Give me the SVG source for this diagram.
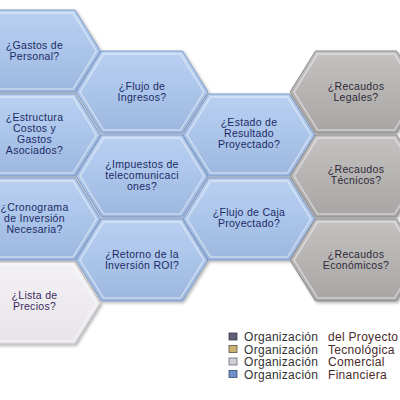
<svg xmlns="http://www.w3.org/2000/svg" xmlns:xlink="http://www.w3.org/1999/xlink" width="400" height="400" viewBox="0 0 400 400">
<defs>
  <linearGradient id="gBlue" x1="0" y1="0" x2="0" y2="1">
    <stop offset="0" stop-color="#b9d0f0"/>
    <stop offset="0.5" stop-color="#abc5ea"/>
    <stop offset="1" stop-color="#9cb6de"/>
  </linearGradient>
  <linearGradient id="gGray" x1="0" y1="0" x2="0" y2="1">
    <stop offset="0" stop-color="#c4c1c1"/>
    <stop offset="0.5" stop-color="#b6b3b3"/>
    <stop offset="1" stop-color="#a8a5a5"/>
  </linearGradient>
  <linearGradient id="gLight" x1="0" y1="0" x2="0" y2="1">
    <stop offset="0" stop-color="#f3f1f4"/>
    <stop offset="1" stop-color="#e8e5ea"/>
  </linearGradient>
  <filter id="sh" x="-20%" y="-20%" width="140%" height="140%">
    <feDropShadow dx="1.5" dy="1.5" stdDeviation="1.5" flood-color="#000" flood-opacity="0.3"/>
  </filter>
  <polygon id="hex" points="-66,0 -40.5,-41 40.5,-41 66,0 40.5,41 -40.5,41"/>
  <polygon id="hexIn" points="-62,0 -38.5,-38 38.5,-38 62,0 38.5,38 -38.5,38"/>
</defs>
<style>
  .blue{fill:url(#gBlue);stroke:#7f9bc6;stroke-width:1}
  .gray{fill:url(#gGray);stroke:#8e8b8b;stroke-width:1}
  .light{fill:url(#gLight);stroke:#bdb9c0;stroke-width:1}
  .hl{fill:none;stroke:#ffffff;stroke-opacity:0.45;stroke-width:1.5}
  .sh{filter:url(#sh)}
  text{font-family:"Liberation Sans",Arial,sans-serif;font-size:10.5px;text-anchor:middle;letter-spacing:0.3px}
  .tb{fill:#1c2a66}
  .tg{fill:#2e2a36}
  .tl{fill:#3c2860}
  .lg{font-size:12px;text-anchor:start;fill:#333;letter-spacing:0.3px}
  .lg2{font-size:12px;text-anchor:start;fill:#4a2a2a;letter-spacing:0.3px}
</style>

<g id="n-gastos-personal" transform="translate(34.5,51)">
  <use xlink:href="#hex" class="blue sh"/><use xlink:href="#hexIn" class="hl"/>
  <text class="tb" y="-2">¿Gastos de</text><text class="tb" y="9">Personal?</text>
</g>
<g id="n-estructura" transform="translate(34.5,135)">
  <use xlink:href="#hex" class="blue sh"/><use xlink:href="#hexIn" class="hl"/>
  <text class="tb" y="-14">¿Estructura</text><text class="tb" y="-3">Costos y</text><text class="tb" y="8">Gastos</text><text class="tb" y="19">Asociados?</text>
</g>
<g id="n-cronograma" transform="translate(34.5,219)">
  <use xlink:href="#hex" class="blue sh"/><use xlink:href="#hexIn" class="hl"/>
  <text class="tb" y="-8">¿Cronograma</text><text class="tb" y="3">de Inversión</text><text class="tb" y="14">Necesaria?</text>
</g>
<g id="n-lista" transform="translate(34.5,303)">
  <use xlink:href="#hex" class="light sh"/><use xlink:href="#hexIn" class="hl"/>
  <text class="tl" y="-4">¿Lista de</text><text class="tl" y="7">Precios?</text>
</g>

<g id="n-flujo-ingresos" transform="translate(142,92)">
  <use xlink:href="#hex" class="blue sh"/><use xlink:href="#hexIn" class="hl"/>
  <text class="tb" y="-2">¿Flujo de</text><text class="tb" y="9">Ingresos?</text>
</g>
<g id="n-impuestos" transform="translate(142,176)">
  <use xlink:href="#hex" class="blue sh"/><use xlink:href="#hexIn" class="hl"/>
  <text class="tb" y="-8">¿Impuestos de</text><text class="tb" y="3">telecomunicaci</text><text class="tb" y="14">ones?</text>
</g>
<g id="n-retorno" transform="translate(142,260)">
  <use xlink:href="#hex" class="blue sh"/><use xlink:href="#hexIn" class="hl"/>
  <text class="tb" y="-2">¿Retorno de la</text><text class="tb" y="9">Inversión ROI?</text>
</g>

<g id="n-estado-resultado" transform="translate(249,135)">
  <use xlink:href="#hex" class="blue sh"/><use xlink:href="#hexIn" class="hl"/>
  <text class="tb" y="-9">¿Estado de</text><text class="tb" y="2">Resultado</text><text class="tb" y="13">Proyectado?</text>
</g>
<g id="n-flujo-caja" transform="translate(249,219)">
  <use xlink:href="#hex" class="blue sh"/><use xlink:href="#hexIn" class="hl"/>
  <text class="tb" y="-3">¿Flujo de Caja</text><text class="tb" y="8">Proyectado?</text>
</g>

<g id="n-legales" transform="translate(356,92)">
  <use xlink:href="#hex" class="gray sh"/><use xlink:href="#hexIn" class="hl"/>
  <text class="tg" y="-2">¿Recaudos</text><text class="tg" y="9">Legales?</text>
</g>
<g id="n-tecnicos" transform="translate(356,176)">
  <use xlink:href="#hex" class="gray sh"/><use xlink:href="#hexIn" class="hl"/>
  <text class="tg" y="-3">¿Recaudos</text><text class="tg" y="8">Técnicos?</text>
</g>
<g id="n-economicos" transform="translate(356,260)">
  <use xlink:href="#hex" class="gray sh"/><use xlink:href="#hexIn" class="hl"/>
  <text class="tg" y="-2">¿Recaudos</text><text class="tg" y="9">Económicos?</text>
</g>

<g id="connectors"></g>

<g id="legend">
  <rect x="229" y="333" width="8" height="7" fill="#5d6078" stroke="#3a3c50" stroke-width="0.8"/>
  <rect x="229" y="345.5" width="8" height="7" fill="#c9b273" stroke="#5a5040" stroke-width="0.8"/>
  <rect x="229" y="358" width="8" height="7" fill="#cfcfd6" stroke="#6a6a78" stroke-width="0.8"/>
  <rect x="229" y="370.5" width="8" height="7" fill="#6f90c8" stroke="#3a4a70" stroke-width="0.8"/>
  <text class="lg" x="244" y="341">Organización</text><text class="lg2" x="328" y="341">del Proyecto</text>
  <text class="lg" x="244" y="353.5">Organización</text><text class="lg2" x="328" y="353.5">Tecnológica</text>
  <text class="lg" x="244" y="366">Organización</text><text class="lg2" x="328" y="366">Comercial</text>
  <text class="lg" x="244" y="378.5">Organización</text><text class="lg2" x="328" y="378.5">Financiera</text>
</g>
</svg>
